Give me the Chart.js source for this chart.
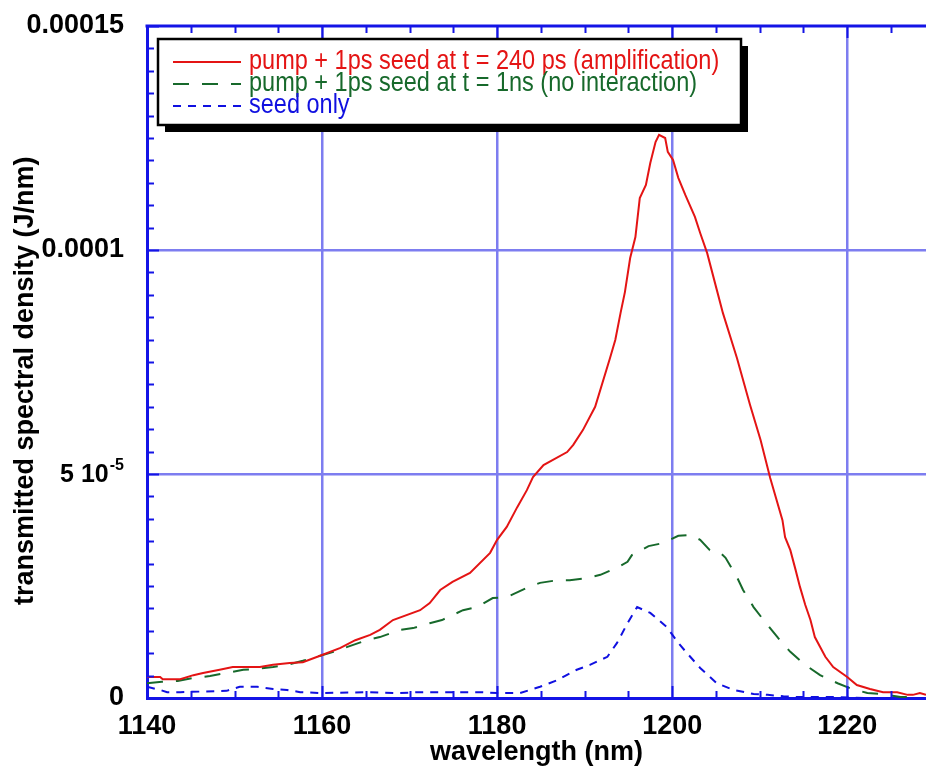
<!DOCTYPE html>
<html>
<head>
<meta charset="utf-8">
<script src="https://cdn.jsdelivr.net/npm/chart.js@4"></script>
<style>
  body { margin: 0; background: #fff; }
  #wrap { width: 926px; height: 777px; }
</style>
</head>
<body>
<div id="wrap"><canvas id="spectrumChart" width="926" height="777"></canvas></div>
<script>
// spectral density values are in units of 1e-5 J/nm
const redWl = [1140.0, 1141.5, 1141.8, 1143.8, 1145.3, 1146.4, 1148.3, 1149.8, 1152.9, 1154.4, 1156.3, 1157.8, 1160.0, 1162.1, 1163.8, 1165.5, 1166.6, 1168.1, 1171.2, 1172.3, 1173.5, 1174.9, 1176.9, 1179.2, 1180.0, 1181.1, 1182.3, 1183.4, 1184.1, 1185.3, 1188.0, 1188.7, 1189.8, 1191.2, 1192.9, 1193.5, 1194.1, 1194.6, 1195.2, 1195.8, 1196.3, 1197.0, 1197.5, 1198.1, 1198.5, 1199.2, 1199.5, 1200.1, 1200.7, 1201.5, 1202.6, 1203.2, 1204.0, 1205.1, 1205.8, 1207.4, 1208.9, 1210.1, 1211.2, 1212.6, 1212.9, 1213.5, 1214.1, 1214.6, 1215.2, 1215.8, 1216.3, 1217.5, 1218.4, 1220.0, 1221.1, 1222.6, 1224.1, 1225.7, 1226.9, 1227.5, 1228.3, 1229.0];
const redVal = [0.47, 0.47, 0.42, 0.42, 0.51, 0.56, 0.63, 0.69, 0.69, 0.74, 0.78, 0.80, 0.96, 1.12, 1.29, 1.41, 1.52, 1.74, 1.96, 2.12, 2.41, 2.59, 2.79, 3.24, 3.53, 3.82, 4.26, 4.64, 4.93, 5.20, 5.49, 5.65, 5.98, 6.50, 7.59, 7.99, 8.59, 9.06, 9.82, 10.29, 11.16, 11.45, 11.94, 12.41, 12.57, 12.50, 12.19, 12.01, 11.61, 11.23, 10.74, 10.38, 9.93, 9.11, 8.59, 7.59, 6.54, 5.76, 4.91, 3.97, 3.59, 3.30, 2.86, 2.48, 2.08, 1.74, 1.36, 0.92, 0.69, 0.47, 0.29, 0.20, 0.13, 0.13, 0.07, 0.07, 0.11, 0.07];

const greenWl = [1140.0, 1141.7, 1143.5, 1145.3, 1147.2, 1149.1, 1151.0, 1152.6, 1154.4, 1156.0, 1157.8, 1159.4, 1161.3, 1162.9, 1165.1, 1166.6, 1168.9, 1170.4, 1172.3, 1173.7, 1176.1, 1177.7, 1179.5, 1181.1, 1183.4, 1184.9, 1186.9, 1188.3, 1190.3, 1191.8, 1193.8, 1194.9, 1195.4, 1197.3, 1199.0, 1200.7, 1202.1, 1203.2, 1204.3, 1205.5, 1206.1, 1207.4, 1208.1, 1209.3, 1210.6, 1212.1, 1213.5, 1215.2, 1216.9, 1218.9, 1220.3, 1222.3, 1223.8, 1226.1, 1228.0];
const greenVal = [0.33, 0.36, 0.38, 0.45, 0.49, 0.56, 0.63, 0.65, 0.69, 0.74, 0.83, 0.92, 1.03, 1.14, 1.29, 1.36, 1.52, 1.56, 1.67, 1.74, 1.96, 2.03, 2.23, 2.25, 2.46, 2.57, 2.63, 2.63, 2.68, 2.75, 2.92, 3.04, 3.19, 3.39, 3.46, 3.62, 3.64, 3.53, 3.30, 3.24, 3.13, 2.70, 2.41, 2.03, 1.70, 1.34, 1.03, 0.74, 0.51, 0.33, 0.22, 0.11, 0.09, 0.02, 0.02];

const blueWl = [1140.0, 1141.5, 1142.3, 1143.8, 1149.1, 1150.6, 1152.6, 1154.4, 1156.0, 1157.5, 1160.0, 1165.1, 1168.9, 1170.9, 1174.3, 1178.1, 1180.0, 1182.6, 1184.9, 1186.9, 1189.1, 1190.6, 1192.6, 1193.7, 1194.9, 1196.0, 1197.5, 1199.4, 1200.7, 1201.7, 1203.2, 1205.1, 1207.0, 1209.3, 1210.9, 1212.7, 1214.6, 1218.4, 1222.3, 1226.1, 1229.0];
const blueVal = [0.25, 0.18, 0.13, 0.13, 0.16, 0.25, 0.25, 0.20, 0.18, 0.13, 0.11, 0.13, 0.11, 0.13, 0.13, 0.13, 0.11, 0.11, 0.25, 0.40, 0.63, 0.74, 0.92, 1.23, 1.67, 2.03, 1.90, 1.58, 1.23, 1.00, 0.67, 0.33, 0.18, 0.09, 0.07, 0.04, 0.02, 0.02, 0.00, 0.00, 0.00];

const seriesLabels = [
    'pump + 1ps seed at t = 240 ps (amplification)',
    'pump + 1ps seed at t = 1ns (no interaction)',
    'seed only'
];
const xLabelEvery = 20;
const yTickValues = [0, 5, 10, 15];
const yTickText = ['0', '5 10', '0.0001', '0.00015'];
const yTickSup = ['', '-5', '', ''];

const AXIS_BLUE = '#1414e6';
const GRID_BLUE = '#7d7df0';
const FONT = '"Liberation Sans", Arial, Helvetica, sans-serif';

function toPoints(xs, ys) {
    return xs.map((x, i) => ({ x: x, y: ys[i] }));
}

// inner tick marks, top frame line, the "5 10^-5" label and the boxed legend
const framePlugin = {
    id: 'frame',
    afterDatasetsDraw(chart) {
        const ctx = chart.ctx;
        const area = chart.chartArea;
        const xs = chart.scales.x;
        const ys = chart.scales.y;
        ctx.save();
        ctx.strokeStyle = AXIS_BLUE;
        ctx.lineWidth = 2;
        xs.ticks.forEach(t => {
            const px = Math.round(xs.getPixelForValue(t.value)) + 0.5;
            const len = t.value % xLabelEvery === 0 ? 12 : 7;
            ctx.beginPath();
            ctx.moveTo(px, area.bottom);
            ctx.lineTo(px, area.bottom - len);
            ctx.moveTo(px, area.top);
            ctx.lineTo(px, area.top + len);
            ctx.stroke();
        });
        ys.ticks.forEach(t => {
            const py = Math.round(ys.getPixelForValue(t.value)) + 0.5;
            const len = t.value % 5 === 0 ? 12 : 7;
            ctx.beginPath();
            ctx.moveTo(area.left, py);
            ctx.lineTo(area.left + len, py);
            ctx.stroke();
        });
        // top frame
        ctx.lineWidth = 3;
        ctx.beginPath();
        ctx.moveTo(area.left - 1.5, area.top);
        ctx.lineTo(area.right, area.top);
        ctx.stroke();
        ctx.restore();
    },
    afterDraw(chart) {
        const ctx = chart.ctx;
        const ys = chart.scales.y;
        ctx.save();
        // y label with superscript
        yTickValues.forEach((v, i) => {
            if (!yTickSup[i]) return;
            const py = ys.getPixelForValue(v);
            const right = chart.chartArea.left - 23;
            ctx.fillStyle = '#000';
            ctx.textAlign = 'right';
            ctx.textBaseline = 'middle';
            ctx.font = 'bold 16px ' + FONT;
            ctx.fillText(yTickSup[i], right, py - 8);
            const supW = ctx.measureText(yTickSup[i]).width;
            ctx.font = 'bold 25px ' + FONT;
            ctx.fillText(yTickText[i], right - supW - 1, py + 1);
        });

        // legend box with shadow
        const bx = 158, by = 39, bw = 583, bh = 86, sh = 7;
        ctx.fillStyle = '#000';
        ctx.fillRect(bx + sh, by + sh, bw, bh);
        ctx.fillStyle = '#fff';
        ctx.fillRect(bx, by, bw, bh);
        ctx.strokeStyle = '#000';
        ctx.lineWidth = 2.5;
        ctx.strokeRect(bx, by, bw, bh);

        chart.data.datasets.forEach((ds, i) => {
            const y = 62 + i * 22;
            ctx.strokeStyle = ds.borderColor;
            ctx.lineWidth = 2;
            ctx.setLineDash(ds.borderDash || []);
            ctx.beginPath();
            ctx.moveTo(173, y);
            ctx.lineTo(241, y);
            ctx.stroke();
            ctx.setLineDash([]);
            ctx.save();
            ctx.translate(249, y);
            ctx.scale(1, 1.15);
            ctx.fillStyle = ds.borderColor;
            ctx.font = '23.5px ' + FONT;
            ctx.textAlign = 'left';
            ctx.textBaseline = 'middle';
            ctx.fillText(ds.label, 0, 0);
            ctx.restore();
        });
        ctx.restore();
    }
};

const ctx = document.getElementById('spectrumChart').getContext('2d');
new Chart(ctx, {
    type: 'scatter',
    data: {
        datasets: [
            {
                label: seriesLabels[0],
                data: toPoints(redWl, redVal),
                borderColor: '#e41414',
                borderWidth: 2,
                showLine: true,
                pointRadius: 0,
                tension: 0
            },
            {
                label: seriesLabels[1],
                data: toPoints(greenWl, greenVal),
                borderColor: '#17692b',
                borderWidth: 2,
                borderDash: [16, 13],
                showLine: true,
                pointRadius: 0,
                tension: 0
            },
            {
                label: seriesLabels[2],
                data: toPoints(blueWl, blueVal),
                borderColor: '#1010e0',
                borderWidth: 2,
                borderDash: [8, 7],
                showLine: true,
                pointRadius: 0,
                tension: 0
            }
        ]
    },
    options: {
        responsive: false,
        animation: false,
        layout: { padding: { top: 26, right: 0, left: 0, bottom: 0 } },
        plugins: {
            legend: { display: false },
            tooltip: { enabled: false }
        },
        scales: {
            x: {
                type: 'linear',
                min: 1140,
                max: 1229,
                afterFit: s => { s.height = 79; s.paddingLeft = 0; s.paddingRight = 0; },
                border: { color: AXIS_BLUE, width: 3 },
                grid: {
                    drawTicks: false,
                    lineWidth: 2.5,
                    color: c => (c.tick && c.tick.value % xLabelEvery === 0 && c.tick.value !== 1140) ? GRID_BLUE : 'rgba(0,0,0,0)'
                },
                ticks: {
                    stepSize: 5,
                    includeBounds: false,
                    autoSkip: false,
                    maxRotation: 0,
                    minRotation: 0,
                    padding: 12,
                    color: '#000',
                    font: { family: FONT, size: 27, weight: 'bold' },
                    callback: v => (v % xLabelEvery === 0 ? String(v) : '')
                },
                title: {
                    display: true,
                    text: 'wavelength (nm)',
                    color: '#000',
                    font: { family: FONT, size: 27, weight: 'bold' },
                    padding: { top: 0, bottom: 8 }
                }
            },
            y: {
                min: 0,
                max: 15,
                afterFit: s => { s.width = 147; s.paddingTop = 0; s.paddingBottom = 0; },
                border: { color: AXIS_BLUE, width: 3 },
                grid: {
                    drawTicks: false,
                    lineWidth: 2.5,
                    color: c => (c.tick && (c.tick.value === 5 || c.tick.value === 10)) ? GRID_BLUE : 'rgba(0,0,0,0)'
                },
                ticks: {
                    stepSize: 0.5,
                    autoSkip: false,
                    padding: 23,
                    color: '#000',
                    font: { family: FONT, size: 27, weight: 'bold' },
                    callback: v => {
                        const i = yTickValues.indexOf(v);
                        return (i >= 0 && !yTickSup[i]) ? yTickText[i] : '';
                    }
                },
                title: {
                    display: true,
                    text: 'transmitted spectral density (J/nm)     ',
                    color: '#000',
                    font: { family: FONT, size: 27, weight: 'bold' },
                    padding: { top: 9, bottom: 0 }
                }
            }
        }
    },
    plugins: [framePlugin]
});
</script>
</body>
</html>
